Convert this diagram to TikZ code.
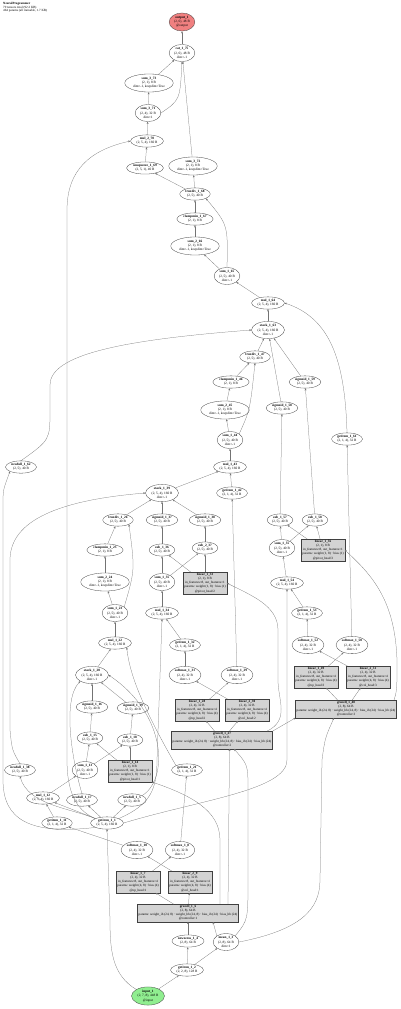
\documentclass[tikz,border=0pt]{standalone}
\usepackage{fontspec}
\setmainfont{Liberation Serif}
\usepackage{tikz}
\usetikzlibrary{shapes.geometric, arrows.meta, positioning}
\definecolor{outred}{HTML}{F08080}
\definecolor{ingreen}{HTML}{90EE90}
\definecolor{modgray}{HTML}{D3D3D3}
\newcommand{\lbl}[2]{\textbf{#1}\\#2}

\begin{document}
\begin{tikzpicture}[
    x=1pt, y=-1pt,
    tensor/.style={ellipse, draw=black!75, line width=0.3pt, inner xsep=1.3pt, inner ysep=0.7pt,
                   align=center, font=\fontsize{3.4}{4.2}\selectfont},
    outnode/.style={tensor, fill=outred},
    innode/.style={tensor, fill=ingreen},
    modbox/.style={rectangle, draw=black!75, fill=modgray, line width=0.3pt,
                   inner sep=1.1pt, align=center, font=\fontsize{3.3}{4.1}\selectfont},
    arr/.style={-{Stealth[length=2.2pt, width=1.8pt]}, line width=0.25pt, draw=black!55}
]
\useasboundingbox (0,0) rectangle (400,1009);

\node[anchor=north west, align=left, inner sep=0pt, font=\fontsize{3.2}{3.7}\selectfont] (title) at (3,2)
    {\textbf{NeuralProgrammer}\\79 tensors total (92.2 KB)\\464 params (all trainable, 1.7 KB)};

% final read-out
\node[outnode] (output_1)       at (182,22)  {\lbl{output\_1}{(2, 6), 48 B\\@output}};
\node[tensor]  (cat_1_75)       at (182,53)  {\lbl{cat\_1\_75}{(2, 6), 48 B\\dim=-1}};
\node[tensor]  (sum_3_73)       at (149,83)  {\lbl{sum\_3\_73}{(2, 1), 8 B\\dim=-1, keepdim=True}};
\node[tensor]  (sum_3_71)       at (148,113) {\lbl{sum\_3\_71}{(2, 4), 32 B\\dim=1}};
\node[tensor]  (mul_2_70)       at (147,141) {\lbl{mul\_2\_70}{(2, 5, 4), 160 B}};
\node[tensor]  (unsqueeze_1_69) at (145,168) {\lbl{unsqueeze\_1\_69}{(2, 5, 1), 40 B}};
\node[tensor]  (sum_3_72)       at (193,166) {\lbl{sum\_3\_72}{(2, 1), 8 B\\dim=-1, keepdim=True}};
\node[tensor]  (truediv_1_68)   at (195,194) {\lbl{truediv\_1\_68}{(2, 5), 40 B}};
\node[tensor]  (clampmin_1_67)  at (195,219) {\lbl{clampmin\_1\_67}{(2, 1), 8 B}};
\node[tensor]  (sum_2_66)       at (195,246) {\lbl{sum\_2\_66}{(2, 1), 8 B\\dim=-1, keepdim=True}};
\node[tensor]  (sum_1_65)       at (227,276) {\lbl{sum\_1\_65}{(2, 5), 40 B\\dim=-1}};
\node[tensor]  (mul_1_64)       at (268,303) {\lbl{mul\_1\_64}{(2, 5, 4), 160 B}};
\node[tensor]  (stack_1_63)     at (268,330) {\lbl{stack\_1\_63}{(2, 5, 4), 160 B\\dim=-1}};

% step 3
\node[tensor]  (truediv_1_47)   at (255,357) {\lbl{truediv\_1\_47}{(2, 5), 40 B}};
\node[tensor]  (clampmin_1_46)  at (231,382) {\lbl{clampmin\_1\_46}{(2, 1), 8 B}};
\node[tensor]  (sigmoid_1_59)   at (305,382) {\lbl{sigmoid\_1\_59}{(2, 5), 40 B}};
\node[tensor]  (sigmoid_1_58)   at (282,408) {\lbl{sigmoid\_1\_58}{(2, 5), 40 B}};
\node[tensor]  (sum_2_45)       at (225,410) {\lbl{sum\_2\_45}{(2, 1), 8 B\\dim=-1, keepdim=True}};
\node[tensor]  (sum_1_44)       at (230,440) {\lbl{sum\_1\_44}{(2, 5), 40 B\\dim=-1}};
\node[tensor]  (getitem_1_61)   at (347,439) {\lbl{getitem\_1\_61}{(2, 1, 4), 32 B}};
\node[tensor]  (mul_1_43)       at (230,467) {\lbl{mul\_1\_43}{(2, 5, 4), 160 B}};
\node[tensor]  (newfull_1_62)   at (21,467)  {\lbl{newfull\_1\_62}{(2, 5), 40 B}};
\node[tensor]  (getitem_1_42)   at (232,493) {\lbl{getitem\_1\_42}{(2, 1, 4), 32 B}};
\node[tensor]  (stack_1_39)     at (162,493) {\lbl{stack\_1\_39}{(2, 5, 4), 160 B\\dim=-1}};
\node[tensor]  (sub_1_57)       at (280,520) {\lbl{sub\_1\_57}{(2, 5), 40 B}};
\node[tensor]  (sub_1_58)       at (315,520) {\lbl{sub\_1\_58}{(2, 5), 40 B}};
\node[tensor]  (sum_1_55)       at (282,548) {\lbl{sum\_1\_55}{(2, 5), 40 B\\dim=-1}};
\node[modbox]  (linear_1_56)    at (323,550) {\lbl{linear\_1\_56}{(2, 1), 8 B\\in\_features=8, out\_features=1\\params: weight (1, 8) · bias (1)\\@pivot\_head:3}};
\node[tensor]  (mul_1_54)       at (287,583) {\lbl{mul\_1\_54}{(2, 5, 4), 160 B}};
\node[tensor]  (getitem_1_53)   at (307,613) {\lbl{getitem\_1\_53}{(2, 1, 4), 32 B}};
\node[tensor]  (softmax_1_52)   at (308,645) {\lbl{softmax\_1\_52}{(2, 4), 32 B\\dim=-1}};
\node[tensor]  (softmax_1_50)   at (352,645) {\lbl{softmax\_1\_50}{(2, 4), 32 B\\dim=-1}};
\node[modbox]  (linear_1_49)    at (316,677) {\lbl{linear\_1\_49}{(2, 4), 32 B\\in\_features=8, out\_features=4\\params: weight (4, 8) · bias (4)\\@op\_head:3}};
\node[modbox]  (linear_2_51)    at (368,677) {\lbl{linear\_2\_51}{(2, 4), 32 B\\in\_features=8, out\_features=4\\params: weight (4, 8) · bias (4)\\@col\_head:3}};
\node[modbox]  (grucell_1_48)   at (346,709) {\lbl{grucell\_1\_48}{(2, 8), 64 B\\params: weight\_ih (24, 8) · weight\_hh (24, 8) · bias\_ih (24) · bias\_hh (24)\\@controller:3}};

% step 2
\node[tensor]  (truediv_1_26)   at (118,520) {\lbl{truediv\_1\_26}{(2, 5), 40 B}};
\node[tensor]  (sigmoid_1_37)   at (162,520) {\lbl{sigmoid\_1\_37}{(2, 5), 40 B}};
\node[tensor]  (sigmoid_1_38)   at (205,520) {\lbl{sigmoid\_1\_38}{(2, 5), 40 B}};
\node[tensor]  (clampmin_1_25)  at (105,550) {\lbl{clampmin\_1\_25}{(2, 1), 8 B}};
\node[tensor]  (sub_1_36)       at (162,550) {\lbl{sub\_1\_36}{(2, 5), 40 B}};
\node[tensor]  (sub_2_37)       at (205,548) {\lbl{sub\_2\_37}{(2, 5), 40 B}};
\node[tensor]  (sum_2_24)       at (105,582) {\lbl{sum\_2\_24}{(2, 1), 8 B\\dim=-1, keepdim=True}};
\node[tensor]  (sum_1_35)       at (162,582) {\lbl{sum\_1\_35}{(2, 5), 40 B\\dim=-1}};
\node[modbox]  (linear_1_33)    at (205,583) {\lbl{linear\_1\_33}{(2, 1), 8 B\\in\_features=8, out\_features=1\\params: weight (1, 8) · bias (1)\\@pivot\_head:2}};
\node[tensor]  (sum_1_23)       at (115,613) {\lbl{sum\_1\_23}{(2, 5), 40 B\\dim=-1}};
\node[tensor]  (mul_1_34)       at (162,613) {\lbl{mul\_1\_34}{(2, 5, 4), 160 B}};
\node[tensor]  (mul_1_22)       at (115,643) {\lbl{mul\_1\_22}{(2, 5, 4), 160 B}};
\node[tensor]  (getitem_1_32)   at (185,645) {\lbl{getitem\_1\_32}{(2, 1, 4), 32 B}};
\node[tensor]  (stack_1_20)     at (92,675)  {\lbl{stack\_1\_20}{(2, 5, 4), 160 B\\dim=-1}};
\node[tensor]  (softmax_1_31)   at (185,675) {\lbl{softmax\_1\_31}{(2, 4), 32 B\\dim=-1}};
\node[tensor]  (softmax_1_29)   at (237,675) {\lbl{softmax\_1\_29}{(2, 4), 32 B\\dim=-1}};
\node[modbox]  (linear_1_28)    at (197,710) {\lbl{linear\_1\_28}{(2, 4), 32 B\\in\_features=8, out\_features=4\\params: weight (4, 8) · bias (4)\\@op\_head:2}};
\node[modbox]  (linear_2_30)    at (247,710) {\lbl{linear\_2\_30}{(2, 4), 32 B\\in\_features=8, out\_features=4\\params: weight (4, 8) · bias (4)\\@col\_head:2}};
\node[modbox]  (grucell_1_27)   at (222,740) {\lbl{grucell\_1\_27}{(2, 8), 64 B\\params: weight\_ih (24, 8) · weight\_hh (24, 8) · bias\_ih (24) · bias\_hh (24)\\@controller:2}};

% step 1
\node[tensor]  (sigmoid_1_16)   at (92,707)  {\lbl{sigmoid\_1\_16}{(2, 5), 40 B}};
\node[tensor]  (sigmoid_1_19)   at (133,708) {\lbl{sigmoid\_1\_19}{(2, 5), 40 B}};
\node[tensor]  (sub_1_15)       at (90,738)  {\lbl{sub\_1\_15}{(2, 5), 40 B}};
\node[tensor]  (sub_1_18)       at (130,740) {\lbl{sub\_1\_18}{(2, 5), 40 B}};
\node[tensor]  (sum_1_13)       at (85,770)  {\lbl{sum\_1\_13}{(2, 5), 40 B\\dim=-1}};
\node[modbox]  (linear_1_14)    at (130,771) {\lbl{linear\_1\_14}{(2, 1), 8 B\\in\_features=8, out\_features=1\\params: weight (1, 8) · bias (1)\\@pivot\_head:1}};
\node[tensor]  (newfull_1_38)   at (20,770)  {\lbl{newfull\_1\_38}{(2, 5), 40 B}};
\node[tensor]  (getitem_1_21)   at (187,770) {\lbl{getitem\_1\_21}{(2, 1, 4), 32 B}};
\node[tensor]  (mul_1_12)       at (43,798)  {\lbl{mul\_1\_12}{(2, 5, 4), 160 B}};
\node[tensor]  (newfull_1_17)   at (82,800)  {\lbl{newfull\_1\_17}{(2, 5), 40 B}};
\node[tensor]  (newfull_1_5)    at (132,800) {\lbl{newfull\_1\_5}{(2, 5), 40 B}};
\node[tensor]  (getitem_1_11)   at (57,823)  {\lbl{getitem\_1\_11}{(2, 1, 4), 32 B}};
\node[tensor]  (getitem_1_1)    at (107,823) {\lbl{getitem\_1\_1}{(2, 5, 4), 160 B}};
\node[tensor]  (softmax_1_10)   at (137,850) {\lbl{softmax\_1\_10}{(2, 4), 32 B\\dim=-1}};
\node[tensor]  (softmax_1_8)    at (180,850) {\lbl{softmax\_1\_8}{(2, 4), 32 B\\dim=-1}};
\node[modbox]  (linear_1_7)     at (138,882) {\lbl{linear\_1\_7}{(2, 4), 32 B\\in\_features=8, out\_features=4\\params: weight (4, 8) · bias (4)\\@op\_head:1}};
\node[modbox]  (linear_2_9)     at (190,882) {\lbl{linear\_2\_9}{(2, 4), 32 B\\in\_features=8, out\_features=4\\params: weight (4, 8) · bias (4)\\@col\_head:1}};
\node[modbox]  (grucell_1_6)    at (188,913) {\lbl{grucell\_1\_6}{(2, 8), 64 B\\params: weight\_ih (24, 8) · weight\_hh (24, 8) · bias\_ih (24) · bias\_hh (24)\\@controller:1}};
\node[tensor]  (newzeros_1_4)   at (188,941) {\lbl{newzeros\_1\_4}{(2, 8), 64 B}};
\node[tensor]  (mean_1_3)       at (226,942) {\lbl{mean\_1\_3}{(2, 8), 64 B\\dim=1}};
\node[tensor]  (getitem_1_2)    at (187,970) {\lbl{getitem\_1\_2}{(2, 2, 8), 128 B}};
\node[innode]  (input_1)        at (148,996) {\lbl{input\_1}{(2, 7, 8), 448 B\\@input}};

% input and controller
\draw[arr] (input_1) -- (getitem_1_2);
\draw[arr] (input_1.north west) .. controls (112,975) and (110,950) .. (110,920) -- (getitem_1_1.south);
\draw[arr] (getitem_1_2) -- (newzeros_1_4);
\draw[arr] (getitem_1_2) -- (mean_1_3);
\draw[arr] (newzeros_1_4) -- (grucell_1_6);
\draw[arr] (mean_1_3.north west) -- ([xshift=25pt]grucell_1_6.south);
\draw[arr] (mean_1_3.north east) .. controls (248,920) .. (248,880) -- (248,790) .. controls (248,765) .. ([xshift=12pt]grucell_1_27.south);
\draw[arr] (mean_1_3.east) .. controls (300,930) and (320,910) .. (320,880) -- (322,760) .. controls (325,738) .. ([xshift=-12pt]grucell_1_48.south);
\draw[arr] ([xshift=40pt]grucell_1_6.north) -- ([xshift=7.5pt]grucell_1_27.south);
\draw[arr] ([xshift=32pt]grucell_1_6.north) -- (220,840) .. controls (220,810) and (190,795) .. (linear_1_14.south east);
\draw[arr] (grucell_1_6) -- (linear_1_7);
\draw[arr] (grucell_1_6) -- (linear_2_9);
\draw[arr] (grucell_1_27.north east) -- (grucell_1_48.south west);
\draw[arr] (grucell_1_27) -- (linear_1_28);
\draw[arr] (grucell_1_27) -- (linear_2_30);
\draw[arr] ([xshift=45pt]grucell_1_27.north) .. controls (290,720) and (278,700) .. (278,680) -- (278,630) .. controls (278,605) and (250,595) .. (linear_1_33.east);
\draw[arr] (grucell_1_48) -- (linear_1_49);
\draw[arr] (grucell_1_48) -- (linear_2_51);
\draw[arr] ([xshift=48pt]grucell_1_48.north) .. controls (397,690) .. (397,660) .. controls (395,600) and (372,575) .. (linear_1_56.east);

% heads
\draw[arr] (linear_1_7) -- (softmax_1_8);
\draw[arr] (linear_2_9) -- (softmax_1_10);
\draw[arr] (linear_1_28) -- (softmax_1_29);
\draw[arr] (linear_2_30) -- (softmax_1_31);
\draw[arr] (linear_1_49) -- (softmax_1_50);
\draw[arr] (linear_2_51) -- (softmax_1_52);

% table
\draw[arr] (getitem_1_1.south west) .. controls (30,835) and (3,820) .. (3,780) -- (3,505) .. controls (3,490) .. (newfull_1_62.south west);
\draw[arr] (getitem_1_1.north west) .. controls (75,810) and (67,790) .. (67,760) -- (67,210) .. controls (67,170) and (90,150) .. (mul_2_70.west);
\draw[arr] (getitem_1_1.north west) .. controls (70,808) and (28,805) .. (newfull_1_38.south);
\draw[arr] (getitem_1_1) -- (newfull_1_17);
\draw[arr] (getitem_1_1) -- (newfull_1_5);
\draw[arr] (getitem_1_1) -- (mul_1_12);
\draw[arr] (getitem_1_1.north east) .. controls (150,805) and (157,790) .. (157,760) -- (mul_1_34.south);
\draw[arr] (getitem_1_1.east) .. controls (200,800) and (287,790) .. (287,760) -- (mul_1_54.south);

% step 1
\draw[arr] (softmax_1_10) -- (getitem_1_11);
\draw[arr] (getitem_1_11) -- (mul_1_12);
\draw[arr] (mul_1_12) -- (sum_1_13);
\draw[arr] (sum_1_13) -- (sub_1_15);
\draw[arr] (sum_1_13) -- (sub_1_18);
\draw[arr] (linear_1_14) -- (sub_1_15);
\draw[arr] (linear_1_14) -- (sub_1_18);
\draw[arr] (sub_1_15) -- (sigmoid_1_16);
\draw[arr] (sub_1_18) -- (sigmoid_1_19);
\draw[arr] (sigmoid_1_16) -- (stack_1_20);
\draw[arr] (sigmoid_1_19) -- (stack_1_20);
\draw[arr] (newfull_1_17.north) .. controls (72,760) and (62,700) .. (stack_1_20.south west);
\draw[arr] (newfull_1_5.north east) .. controls (168,780) and (168,715) .. (stack_1_20.east);
\draw[arr] (softmax_1_8) -- (getitem_1_21);
\draw[arr] (stack_1_20) -- (mul_1_22);
\draw[arr] (getitem_1_21.north west) .. controls (150,720) and (130,680) .. (mul_1_22.south east);
\draw[arr] (mul_1_22) -- (sum_1_23);
\draw[arr] (sum_1_23) -- (sum_2_24);
\draw[arr] (sum_1_23.north east) .. controls (135,570) .. (truediv_1_26.south east);
\draw[arr] (sum_2_24) -- (clampmin_1_25);
\draw[arr] (clampmin_1_25) -- (truediv_1_26);

% step 2
\draw[arr] (softmax_1_31) -- (getitem_1_32);
\draw[arr] (getitem_1_32) -- (mul_1_34);
\draw[arr] (mul_1_34) -- (sum_1_35);
\draw[arr] (sum_1_35) -- (sub_1_36);
\draw[arr] (sum_1_35) -- (sub_2_37);
\draw[arr] (linear_1_33) -- (sub_1_36);
\draw[arr] (linear_1_33) -- (sub_2_37);
\draw[arr] (sub_1_36) -- (sigmoid_1_37);
\draw[arr] (sub_2_37) -- (sigmoid_1_38);
\draw[arr] (truediv_1_26) -- (stack_1_39);
\draw[arr] (sigmoid_1_37) -- (stack_1_39);
\draw[arr] (sigmoid_1_38) -- (stack_1_39);
\draw[arr] (newfull_1_38.north) .. controls (12,750) .. (10,730) -- (10,560) .. controls (10,520) and (60,500) .. (stack_1_39.west);
\draw[arr] (softmax_1_29) -- (getitem_1_42);
\draw[arr] (stack_1_39) -- (mul_1_43);
\draw[arr] (getitem_1_42) -- (mul_1_43);
\draw[arr] (mul_1_43) -- (sum_1_44);
\draw[arr] (sum_1_44) -- (sum_2_45);
\draw[arr] (sum_1_44.north east) .. controls (250,410) .. (truediv_1_47.south);
\draw[arr] (sum_2_45) -- (clampmin_1_46);
\draw[arr] (clampmin_1_46) -- (truediv_1_47);

% step 3
\draw[arr] (softmax_1_52) -- (getitem_1_53);
\draw[arr] (getitem_1_53) -- (mul_1_54);
\draw[arr] (mul_1_54) -- (sum_1_55);
\draw[arr] (sum_1_55) -- (sub_1_57);
\draw[arr] (sum_1_55) -- (sub_1_58);
\draw[arr] (linear_1_56) -- (sub_1_57);
\draw[arr] (linear_1_56) -- (sub_1_58);
\draw[arr] (sub_1_57) -- (sigmoid_1_58);
\draw[arr] (sub_1_58) -- (sigmoid_1_59);
\draw[arr] (truediv_1_47) -- (stack_1_63);
\draw[arr] (sigmoid_1_58) -- (stack_1_63);
\draw[arr] (sigmoid_1_59) -- (stack_1_63);
\draw[arr] (newfull_1_62.north) .. controls (50,440) .. (50,410) -- (50,385) .. controls (50,355) and (120,340) .. (stack_1_63.west);
\draw[arr] (softmax_1_50) -- (getitem_1_61);

% read-out
\draw[arr] (stack_1_63) -- (mul_1_64);
\draw[arr] (getitem_1_61.north) .. controls (345,360) and (330,318) .. (mul_1_64.east);
\draw[arr] (mul_1_64) -- (sum_1_65);
\draw[arr] (sum_1_65) -- (sum_2_66);
\draw[arr] (sum_1_65.north) .. controls (228,225) .. (truediv_1_68.south east);
\draw[arr] (sum_2_66) -- (clampmin_1_67);
\draw[arr] (clampmin_1_67) -- (truediv_1_68);
\draw[arr] (truediv_1_68) -- (unsqueeze_1_69);
\draw[arr] (truediv_1_68) -- (sum_3_72);
\draw[arr] (unsqueeze_1_69) -- (mul_2_70);
\draw[arr] (mul_2_70) -- (sum_3_71);
\draw[arr] (sum_3_71) -- (sum_3_73);
\draw[arr] (sum_3_71.east) .. controls (180,100) .. (cat_1_75.south);
\draw[arr] (sum_3_73) -- (cat_1_75);
\draw[arr] (sum_3_72) -- (cat_1_75);
\draw[arr] (cat_1_75) -- (output_1);
\end{tikzpicture}
\end{document}
